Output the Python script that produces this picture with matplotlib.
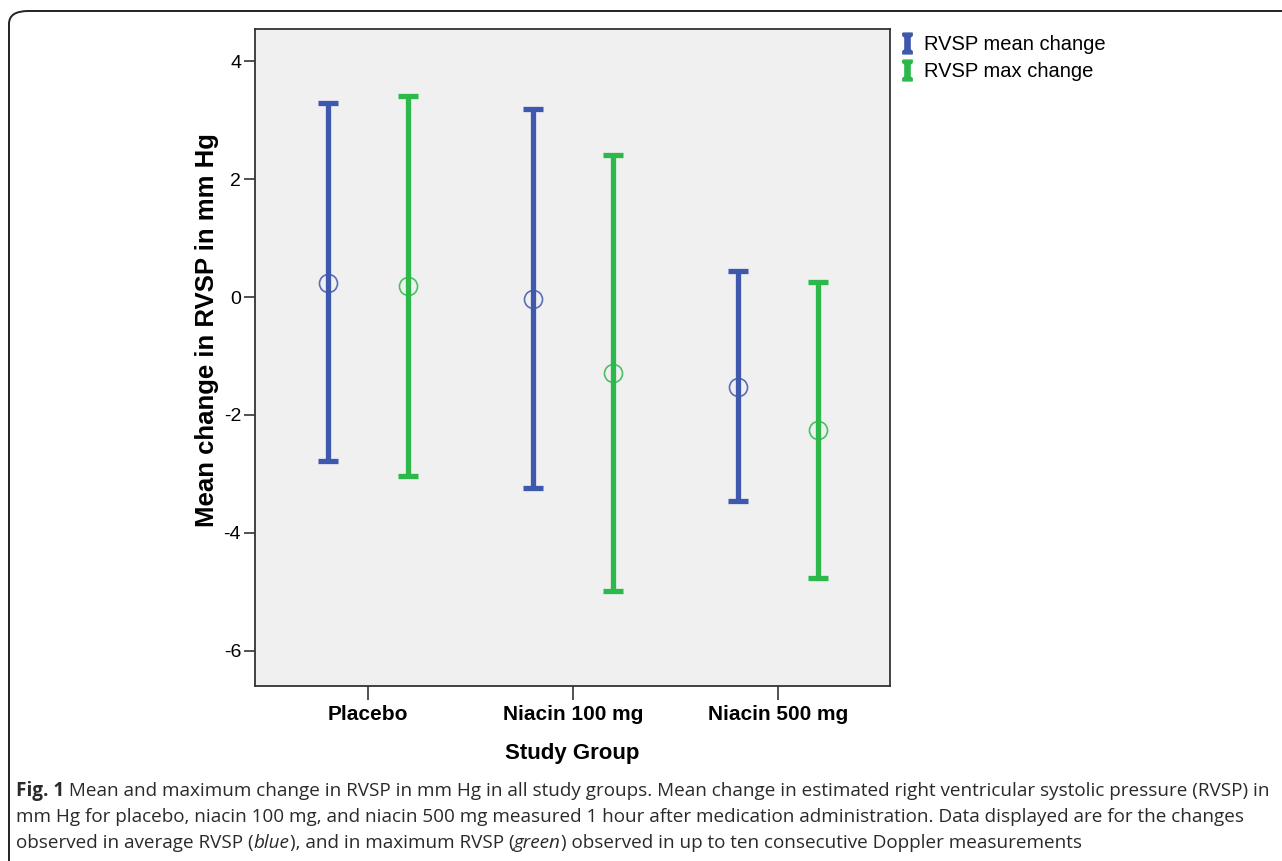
import numpy as np
import matplotlib
matplotlib.use("Agg")
import matplotlib.pyplot as plt
from matplotlib.lines import Line2D
from matplotlib.path import Path
from matplotlib.patches import FancyBboxPatch
from matplotlib.text import Annotation

# data
groups = ["Placebo", "Niacin 100 mg", "Niacin 500 mg"]
mean_change = [0.24, -0.03, -1.53]
mean_upper = [3.30, 3.19, 0.44]
mean_lower = [-2.78, -3.24, -3.46]
max_change = [0.19, -1.29, -2.25]
max_upper = [3.42, 2.42, 0.25]
max_lower = [-3.03, -4.98, -4.76]
series_names = ["RVSP mean change", "RVSP max change"]

BLUE = "#3d58ad"
GREEN = "#2db84b"
W, H = 1282, 861

fig = plt.figure(figsize=(W / 100, H / 100), dpi=100)

# rounded frame around figure + caption (right/bottom edges run off the image)
frame = FancyBboxPatch((9 / W, -0.2), 1.2, 1.2 - 11 / H,
                       boxstyle="round,pad=0,rounding_size=0.015",
                       transform=fig.transFigure, facecolor="none",
                       edgecolor="#222222", linewidth=1.4)
fig.patches.append(frame)

ax = fig.add_axes([255 / W, 1 - 686 / H, (890 - 255) / W, (686 - 29) / H])
ax.set_facecolor("#f0f0f0")

x = np.arange(len(groups))
off = 0.197

def draw(xpos, mid, lo, hi, col):
    mid = np.array(mid)
    yerr = [mid - np.array(lo), np.array(hi) - mid]
    ax.errorbar(xpos, mid, yerr=yerr, fmt="none", ecolor=col, elinewidth=3.8,
                capsize=7.2, capthick=3.8)
    ax.plot(xpos, mid, "o", mfc="none", mec=col, mew=1.2, ms=13, alpha=0.85)

draw(x - off, mean_change, mean_lower, mean_upper, BLUE)
draw(x + off, max_change, max_lower, max_upper, GREEN)

ax.set_xlim(-0.551, 2.546)
ax.set_ylim(-6.6, 4.55)
ax.set_yticks([-6, -4, -2, 0, 2, 4])
ax.set_yticklabels(["-6", "-4", "-2", "0", "2", "4"])
ax.set_xticks(x)

sans = ["Liberation Sans", "DejaVu Sans"]
ax.set_xticklabels(groups, family=sans, fontweight="bold", fontsize=15)
for lab in ax.get_yticklabels():
    lab.set_family(sans)
    lab.set_fontsize(14)
ax.tick_params(axis="y", length=8, width=1.2, color="#333333", pad=2)
ax.tick_params(axis="x", length=10, width=1.2, color="#333333", pad=4)
for s in ax.spines.values():
    s.set_color("#333333")
    s.set_linewidth(1.3)

ax.set_xlabel("Study Group", family=sans, fontweight="bold", fontsize=16)
ax.set_ylabel("Mean change in RVSP in mm Hg", family=sans, fontweight="bold", fontsize=18.5)
ax.xaxis.set_label_coords(0.5, -(743 - 686) / (686 - 29))
ax.yaxis.set_label_coords((219 - 255) / (890 - 255), (686 - 330) / (686 - 29))

# legend with I-beam markers
ib = Path([(-0.45, 1), (0.45, 1), (0.45, 0.75), (0.25, 0.6), (0.25, -0.6),
           (0.45, -0.75), (0.45, -1), (-0.45, -1), (-0.45, -0.75), (-0.25, -0.6),
           (-0.25, 0.6), (-0.45, 0.75), (-0.45, 1)])
handles = [Line2D([], [], marker=ib, ms=15, color=c, mec=c, linestyle="none")
           for c in (BLUE, GREEN)]
fig.legend(handles, series_names, loc="upper left",
           bbox_to_anchor=(899 / W, 1 - 35 / H), frameon=False,
           prop={"family": sans, "size": 14.5},
           handlelength=0.8, handletextpad=0.45, labelspacing=0.4,
           borderaxespad=0, borderpad=0)

# caption, built from pieces so "Fig. 1" can be bold and colour words italic
cap = ["Open Sans", "DejaVu Sans"]
cs = 13.6
col = "#2a2a2a"

def caption_line(pieces, x0, ybase):
    yf = 1 - ybase / H
    last = None
    for txt, kw in pieces:
        if last is None:
            last = fig.text(x0 / W, yf, txt, family=cap, fontsize=cs, color=col,
                            va="baseline", ha="left", **kw)
        else:
            last = fig.add_artist(Annotation(
                txt, xy=(1, yf), xycoords=(last, "figure fraction"),
                family=cap, fontsize=cs, color=col, va="baseline", ha="left", **kw))

caption_line([("Fig. 1", {"fontweight": "bold"}),
              (" Mean and maximum change in RVSP in mm Hg in all study groups. Mean change in estimated right ventricular systolic pressure (RVSP) in", {})],
             16, 796)
caption_line([("mm Hg for placebo, niacin 100 mg, and niacin 500 mg measured 1 hour after medication administration. Data displayed are for the changes", {})],
             16, 822)
caption_line([("observed in average RVSP (", {}), ("blue", {"fontstyle": "italic"}),
              ("), and in maximum RVSP (", {}), ("green", {"fontstyle": "italic"}),
              (") observed in up to ten consecutive Doppler measurements", {})],
             16, 848)

fig.savefig("out.png", dpi=100)
